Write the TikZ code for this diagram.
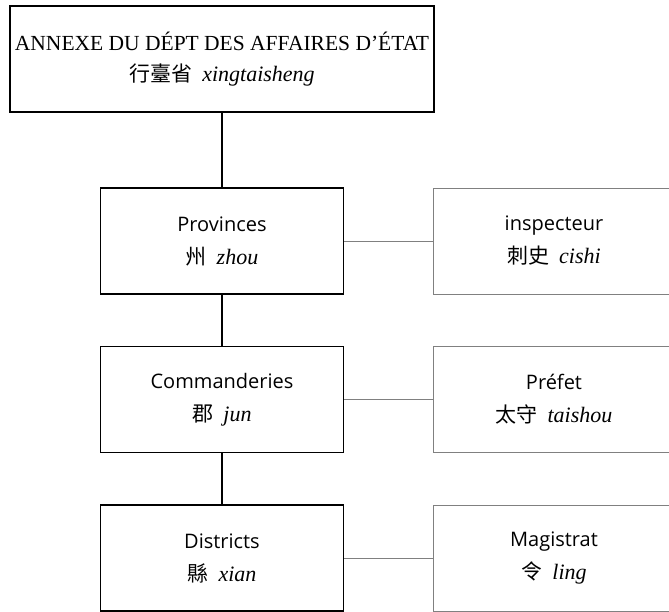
\documentclass[tikz,border=0pt]{standalone}
\usepackage{fontspec}
\setmainfont{Open Sans}
\newfontfamily\serifrm{Liberation Serif}
\newfontfamily\cjk{Noto Sans CJK TC}
\usetikzlibrary{positioning}
\definecolor{linegray}{RGB}{128,128,128}
\newcommand{\zhpy}[2]{{\cjk\fontsize{21}{33}\selectfont #1}\hspace{10pt}{\serifrm\itshape\fontsize{22}{33}\selectfont #2}}
\tikzset{
    office/.style={
    rectangle,draw=black,line width=1.5pt,minimum width=243pt,minimum height=106pt,
    inner sep=0pt,align=center,font=\fontsize{20}{33}\selectfont
    },
    topoffice/.style={
    office,minimum width=424pt,font=\fontsize{20}{31}\selectfont
    },
    official/.style={
    rectangle,draw=linegray,line width=0.8pt,minimum width=242pt,minimum height=106pt,
    inner sep=0pt,align=center,font=\fontsize{20}{33}\selectfont
    },
    rank/.style={draw=black,line width=1.5pt},
    post/.style={draw=linegray,line width=0.8pt},
}
\begin{document}
\begin{tikzpicture}[x=1pt, y=-1pt, node distance=158.5pt, on grid]
   \clip (0,0) rectangle (669,611);
   \node[topoffice] (ANNEXE) at (222,59)
     {{\serifrm\fontsize{21.5}{31}\selectfont ANNEXE DU DÉPT DES AFFAIRES D’ÉTAT}\\ \zhpy{行臺省}{xingtaisheng}};
   \node[office] (PROV) at (222,241) {Provinces\\ \zhpy{州}{zhou}};
   \node[office] (COMM) [below=of PROV] {Commanderies\\ \zhpy{郡}{jun}};
   \node[office] (DIST) [below=of COMM] {Districts\\ \zhpy{縣}{xian}};
   \node[official] (INSP) [right=332pt of PROV] {inspecteur\\ \zhpy{刺史}{cishi}};
   \node[official] (PREF) [right=332pt of COMM] {Préfet\\ \zhpy{太守}{taishou}};
   \node[official] (MAG)  [right=332pt of DIST] {Magistrat\\ \zhpy{令}{ling}};

  \path[-]
    (ANNEXE) edge [rank] (PROV)
    (PROV)   edge [rank] (COMM)
    (COMM)   edge [rank] (DIST)
    (PROV)   edge [post] (INSP)
    (COMM)   edge [post] (PREF)
    (DIST)   edge [post] (MAG);
\end{tikzpicture}
\end{document}
